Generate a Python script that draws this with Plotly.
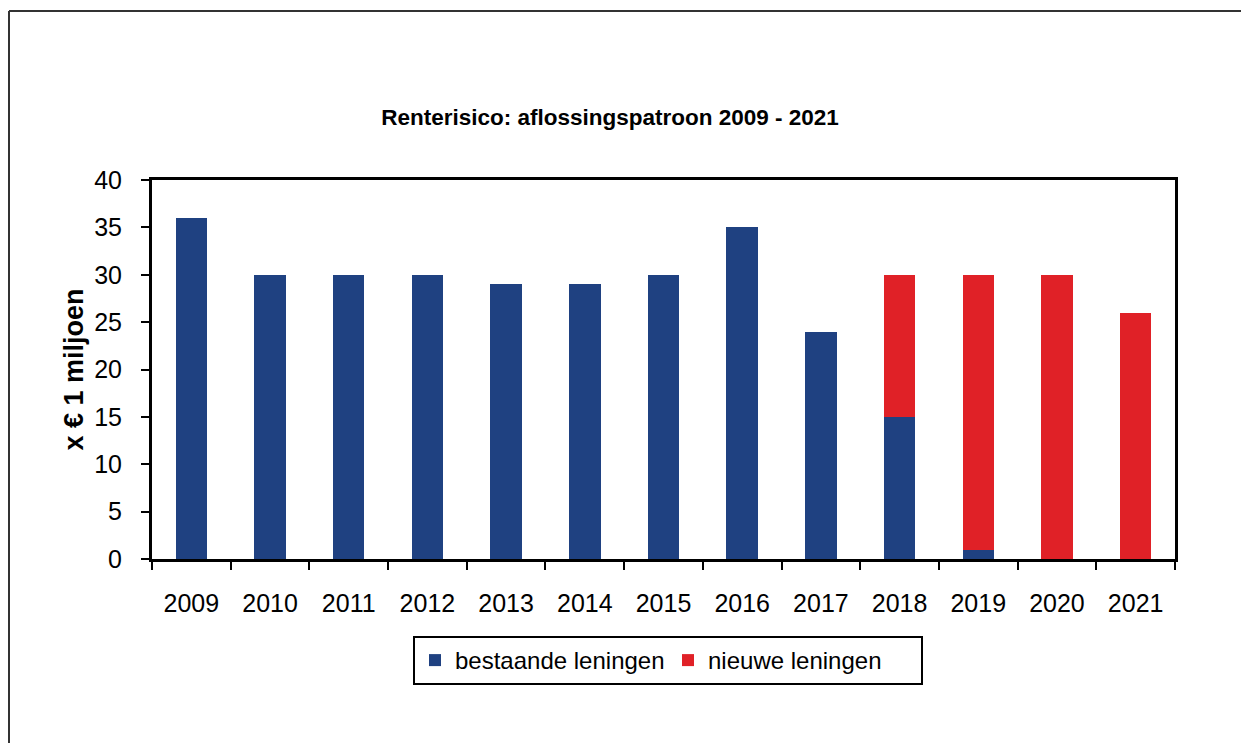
import plotly.graph_objects as go

years = ["2009", "2010", "2011", "2012", "2013", "2014", "2015", "2016", "2017", "2018", "2019", "2020", "2021"]
bestaande = [36, 30, 30, 30, 29, 29, 30, 35, 24, 15, 1, 0, 0]
nieuwe = [0, 0, 0, 0, 0, 0, 0, 0, 0, 15, 29, 30, 26]

W, H = 1241, 743
L, R, T, B = 152, 1175, 180, 559
pw, ph = R - L, B - T

def px(x):
    return (x - L) / pw

def py(y):
    return (B - y) / ph

fig = go.Figure()
fig.add_trace(go.Bar(x=years, y=bestaande, name="bestaande leningen",
                     marker=dict(color="#1F4181", line=dict(width=0))))
fig.add_trace(go.Bar(x=years, y=nieuwe, name="nieuwe leningen",
                     marker=dict(color="#E02127", line=dict(width=0))))

font = "Liberation Sans, Arial, sans-serif"
fig.update_layout(
    width=W, height=H,
    margin=dict(l=L, r=W - R, t=T, b=H - B, pad=0),
    barmode="stack", bargap=0.6,
    paper_bgcolor="white", plot_bgcolor="white",
    font=dict(family=font, color="black", size=25),
    title=dict(text="<b>Renterisico: aflossingspatroon 2009 - 2021</b>",
               x=610 / W, xanchor="center", y=1 - 117 / H, yanchor="middle",
               font=dict(size=22.5, family=font, color="black")),
    showlegend=True,
    legend=dict(orientation="h", x=px(668), xanchor="center", y=py(636), yanchor="top",
                bordercolor="black", borderwidth=2, bgcolor="white",
                font=dict(size=24, family=font), itemsizing="constant",
                entrywidthmode="pixels", entrywidth=208,
                traceorder="normal"),
)
fig.update_xaxes(type="category", showline=True, linecolor="black", linewidth=3, mirror=True,
                 ticks="outside", tickson="boundaries", ticklen=8, tickwidth=2, tickcolor="black",
                 ticklabelstandoff=20, tickfont=dict(size=25, family=font), showgrid=False)
fig.update_yaxes(range=[0, 40], dtick=5, showline=True, linecolor="black", linewidth=3, mirror=True,
                 ticks="outside", ticklen=8, tickwidth=2, tickcolor="black",
                 ticklabelstandoff=14, tickfont=dict(size=25, family=font), showgrid=False,
                 zeroline=False,
                 title=dict(text="<b>x € 1 miljoen</b>", font=dict(size=27, family=font), standoff=3))

# outer frame (left and top edges)
fig.add_shape(type="line", xref="paper", yref="paper", x0=px(9), x1=px(9), y0=py(11), y1=py(745),
              line=dict(color="#333333", width=2))
fig.add_shape(type="line", xref="paper", yref="paper", x0=px(9), x1=px(1245), y0=py(11), y1=py(11),
              line=dict(color="#333333", width=2))

fig.write_html("out.html", config={"displayModeBar": False},
               post_script="document.body.style.margin='0';document.body.style.overflow='hidden';")
